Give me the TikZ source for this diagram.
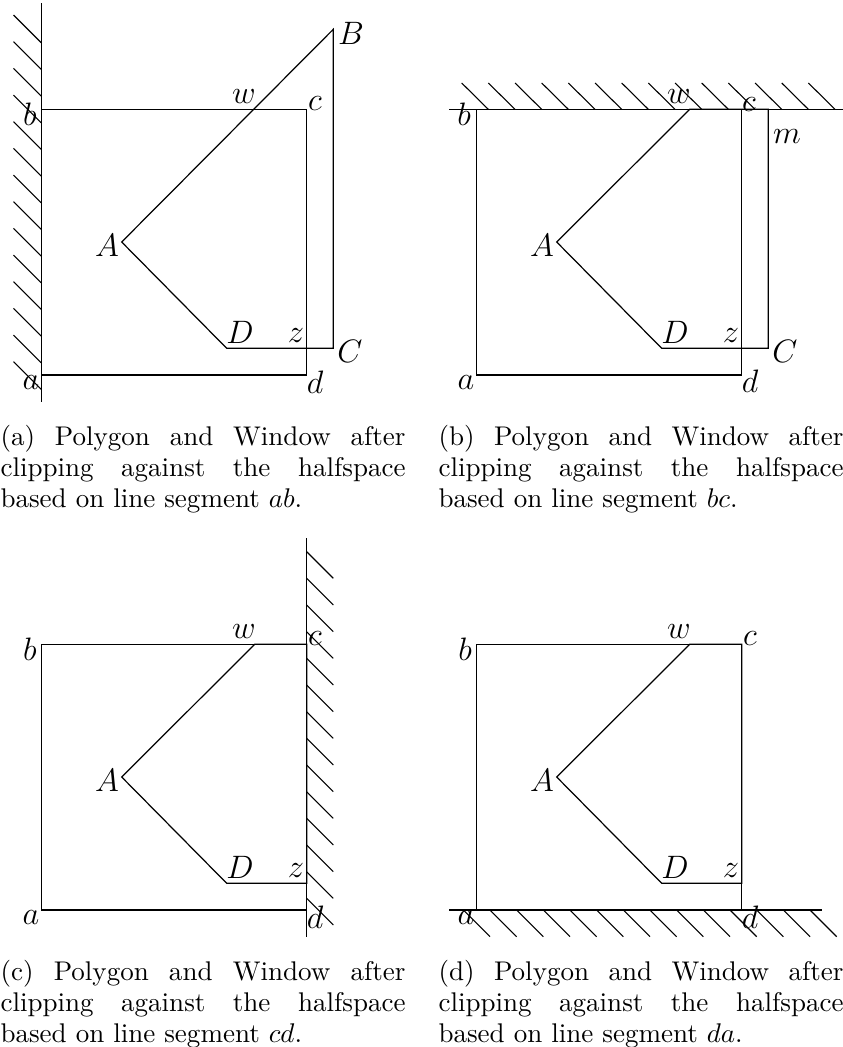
\documentclass[tikz,border=0pt]{standalone}
\tikzset{
  lbl/.style={inner sep=0pt, font=\fontsize{11.5}{14}\selectfont},
  capline/.style={inner sep=0pt, anchor=base west, font=\fontsize{10}{12}\selectfont},
  wall/.style={line width=0.45pt},
  hatchline/.style={line width=0.4pt},
  edge/.style={line width=0.45pt, line join=miter},
}
\newcommand{\capwidth}{149.85pt}
\begin{document}
\begin{tikzpicture}[x=0.37pt, y=-0.37pt]
\path[use as bounding box] (0,0) rectangle (843,1047);

% ---------------- panel (a) ----------------
\coordinate (a1) at (41.3,375);
\coordinate (b1) at (41.3,109.3);
\coordinate (c1) at (306.7,109.3);
\coordinate (d1) at (306.7,375);
\coordinate (A1) at (121.7,242);
\coordinate (B1) at (333.3,29.3);
\coordinate (C1) at (333.3,348.3);
\coordinate (D1) at (226.7,348.3);
\coordinate (wt1) at (41.3,3);
\coordinate (wb1) at (41.3,402);
\draw[wall] (wt1) -- (wb1);
\foreach \k in {0,...,13}
  \draw[hatchline] (13.5,{15+26.67*\k}) -- (41.3,{42.8+26.67*\k});
\draw[edge] (a1) -- (b1) -- (c1) -- (d1) -- cycle;
\draw[edge] (A1) -- (B1) -- (C1) -- (D1) -- cycle;
\node[lbl] (la1) at (31,383) {$a$};
\node[lbl] (lb1) at (30,114) {$b$};
\node[lbl] (lc1) at (315,104) {$c$};
\node[lbl] (ld1) at (315,382) {$d$};
\node[lbl] (lw1) at (244,97) {$w$};
\node[lbl] (lz1) at (296,336) {$z$};
\node[lbl] (lA1) at (107,245) {$A$};
\node[lbl] (lB1) at (351,33) {$B$};
\node[lbl] (lC1) at (350,351) {$C$};
\node[lbl] (lD1) at (240,332) {$D$};

% ---------------- panel (b) ----------------
\coordinate (a2) at (476.3,375);
\coordinate (b2) at (476.3,109.3);
\coordinate (c2) at (741.7,109.3);
\coordinate (d2) at (741.7,375);
\coordinate (A2) at (556.7,242);
\coordinate (w2) at (689.7,109.3);
\coordinate (m2) at (768.3,109.3);
\coordinate (C2) at (768.3,348.3);
\coordinate (D2) at (661.7,348.3);
\coordinate (wl2) at (449,109.3);
\coordinate (wr2) at (843,109.3);
\draw[wall] (wl2) -- (wr2);
\foreach \k in {0,...,13}
  \draw[hatchline] ({461.7+26.67*\k},83) -- ({488.3+26.67*\k},109.3);
\draw[edge] (a2) -- (b2) -- (c2) -- (d2) -- cycle;
\draw[edge] (A2) -- (w2) -- (m2) -- (C2) -- (D2) -- cycle;
\node[lbl] (la2) at (466,383) {$a$};
\node[lbl] (lb2) at (464,114) {$b$};
\node[lbl] (lc2) at (749,105) {$c$};
\node[lbl] (ld2) at (750,381) {$d$};
\node[lbl] (lw2) at (679,97) {$w$};
\node[lbl] (lm2) at (787,137) {$m$};
\node[lbl] (lz2) at (731,336) {$z$};
\node[lbl] (lA2) at (542,245) {$A$};
\node[lbl] (lC2) at (785,351) {$C$};
\node[lbl] (lD2) at (675,332) {$D$};

% ---------------- panel (c) ----------------
\coordinate (a3) at (41.3,910);
\coordinate (b3) at (41.3,644.3);
\coordinate (c3) at (306.7,644.3);
\coordinate (d3) at (306.7,910);
\coordinate (A3) at (121.7,777);
\coordinate (w3) at (254.7,644.3);
\coordinate (z3) at (306.7,883.3);
\coordinate (D3) at (226.7,883.3);
\coordinate (wt3) at (306.7,538.3);
\coordinate (wb3) at (306.7,937);
\draw[wall] (wt3) -- (wb3);
\foreach \k in {0,...,13}
  \draw[hatchline] (306.7,{551.7+26.67*\k}) -- (333.3,{578.3+26.67*\k});
\draw[edge] (a3) -- (b3) -- (c3) -- (d3) -- cycle;
\draw[edge] (A3) -- (w3) -- (c3) -- (z3) -- (D3) -- cycle;
\node[lbl] (la3) at (31,918) {$a$};
\node[lbl] (lb3) at (30,649) {$b$};
\node[lbl] (lc3) at (315,639) {$c$};
\node[lbl] (ld3) at (315,917) {$d$};
\node[lbl] (lw3) at (244,632) {$w$};
\node[lbl] (lz3) at (296,871) {$z$};
\node[lbl] (lA3) at (107,780) {$A$};
\node[lbl] (lD3) at (240,867) {$D$};

% ---------------- panel (d) ----------------
\coordinate (a4) at (476.3,910);
\coordinate (b4) at (476.3,644.3);
\coordinate (c4) at (741.7,644.3);
\coordinate (d4) at (741.7,910);
\coordinate (A4) at (556.7,777);
\coordinate (w4) at (689.7,644.3);
\coordinate (z4) at (741.7,883.3);
\coordinate (D4) at (661.7,883.3);
\coordinate (wl4) at (449.3,910);
\coordinate (wr4) at (821.7,910);
\draw[wall] (wl4) -- (wr4);
\foreach \k in {0,...,13}
  \draw[hatchline] ({463.3+26.67*\k},910) -- ({490+26.67*\k},936.7);
\draw[edge] (a4) -- (b4) -- (c4) -- (d4) -- cycle;
\draw[edge] (A4) -- (w4) -- (c4) -- (z4) -- (D4) -- cycle;
\node[lbl] (la4) at (466,918) {$a$};
\node[lbl] (lb4) at (465,649) {$b$};
\node[lbl] (lc4) at (750,639) {$c$};
\node[lbl] (ld4) at (750,917) {$d$};
\node[lbl] (lw4) at (679,632) {$w$};
\node[lbl] (lz4) at (731,871) {$z$};
\node[lbl] (lA4) at (542,780) {$A$};
\node[lbl] (lD4) at (675,867) {$D$};

% ---------------- captions ----------------
\node[capline] (capa1) at (0,445) {\makebox[\capwidth][s]{(a) Polygon and Window after}};
\node[capline] (capa2) at (0,476) {\makebox[\capwidth][s]{clipping against the halfspace}};
\node[capline] (capa3) at (0,507) {based on line segment $ab$.};
\node[capline] (capb1) at (438,445) {\makebox[\capwidth][s]{(b) Polygon and Window after}};
\node[capline] (capb2) at (438,476) {\makebox[\capwidth][s]{clipping against the halfspace}};
\node[capline] (capb3) at (438,507) {based on line segment $bc$.};
\node[capline] (capc1) at (0,980) {\makebox[\capwidth][s]{(c) Polygon and Window after}};
\node[capline] (capc2) at (0,1011) {\makebox[\capwidth][s]{clipping against the halfspace}};
\node[capline] (capc3) at (0,1042) {based on line segment $cd$.};
\node[capline] (capd1) at (438,980) {\makebox[\capwidth][s]{(d) Polygon and Window after}};
\node[capline] (capd2) at (438,1011) {\makebox[\capwidth][s]{clipping against the halfspace}};
\node[capline] (capd3) at (438,1042) {based on line segment $da$.};
\end{tikzpicture}
\end{document}
